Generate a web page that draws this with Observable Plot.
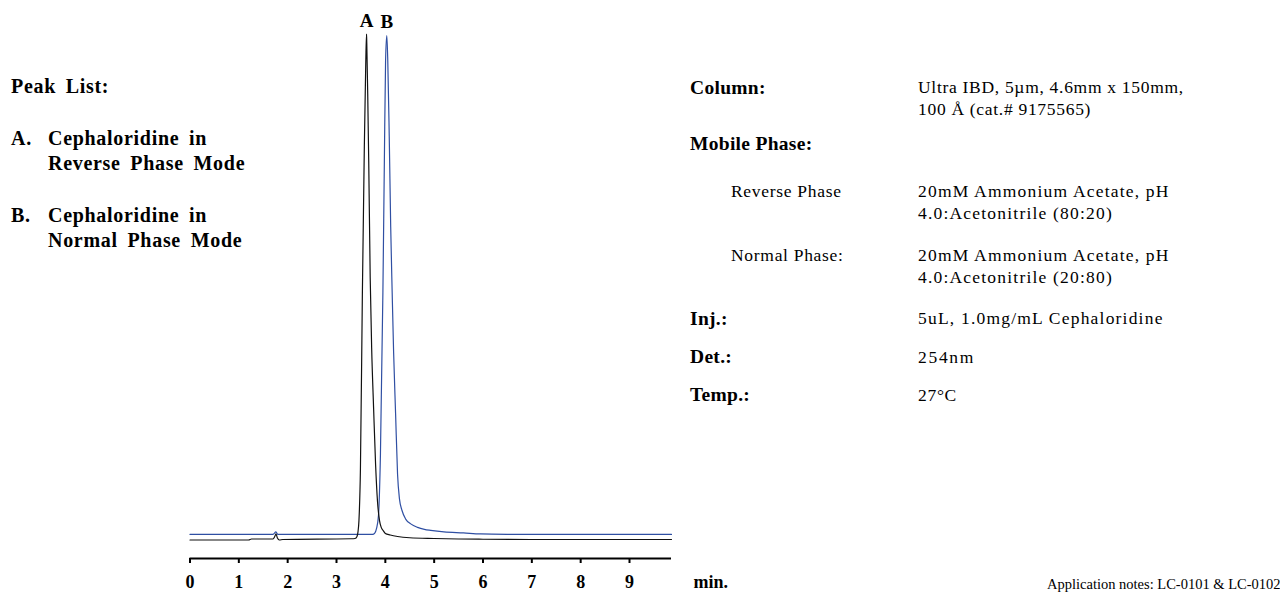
<!DOCTYPE html>
<html><head><meta charset="utf-8">
<script src="https://cdn.jsdelivr.net/npm/d3@7"></script>
<script src="https://cdn.jsdelivr.net/npm/@observablehq/plot@0.6"></script>
<style>
html,body{margin:0;padding:0;background:#fff;}
#page{position:relative;width:1280px;height:594px;overflow:hidden;font-family:"Liberation Serif","Times New Roman",serif;color:#000;}
#chart{position:absolute;left:0;top:0;}
.t{position:absolute;white-space:nowrap;line-height:1;}
</style></head><body><div id="page"><div id="chart"></div></div>
<script>
// ---- data ----
// Reverse phase run (black trace, peak A)
const rpTime = [0, 1.20, 1.26, 1.70, 1.74, 1.76, 1.79, 1.83, 1.90, 3.30, 3.38, 3.42, 3.44, 3.46, 3.49, 3.53, 3.57, 3.60, 3.615, 3.62, 3.64, 3.66, 3.69, 3.72, 3.76, 3.80, 3.84, 3.88, 3.92, 3.96, 4.00, 4.10, 4.25, 4.50, 5.00, 5.50, 6.00, 7.00, 9.86];
const rpSignal = [-0.1, -0.1, 0.1, 0.1, 0.7, 1.1, 0.3, -0.1, 0.0, 0.15, 0.2, 0.6, 1.5, 3.8, 14, 49, 78, 95, 100.3, 98.5, 88, 75, 52, 38, 26, 15, 7.5, 3.8, 2.3, 1.7, 1.2, 0.9, 0.6, 0.35, 0.2, 0.1, 0.05, 0.0, 0.0];
// Normal phase run (blue trace, peak B)
const npTime = [0, 1.70, 1.76, 1.80, 3.74, 3.78, 3.82, 3.86, 3.90, 3.95, 3.98, 4.005, 4.03, 4.05, 4.08, 4.11, 4.14, 4.17, 4.21, 4.25, 4.29, 4.34, 4.42, 4.52, 4.66, 4.80, 4.93, 5.20, 5.60, 5.95, 6.50, 7.50, 9.86];
const npSignal = [1.0, 1.0, 1.5, 1.0, 1.0, 1.2, 2.2, 4.8, 17, 49, 75, 95, 100, 95, 80, 62, 49, 37, 25, 13, 8, 5.8, 4.0, 3.1, 2.4, 2.0, 1.8, 1.5, 1.3, 1.1, 1.03, 1.0, 1.0];
const xTicks = [0, 1, 2, 3, 4, 5, 6, 7, 8, 9];
const xUnit = "min.";
const peakLabels = ["A", "B"];

// ---- texts ----
const peakListTitle = "Peak List:";
const peakKeys = ["A.", "B."];
const peakNames = [["Cephaloridine in", "Reverse Phase Mode"], ["Cephaloridine in", "Normal Phase Mode"]];
const condLabels = ["Column:", "Mobile Phase:", "Inj.:", "Det.:", "Temp.:"];
const phaseLabels = ["Reverse Phase", "Normal Phase:"];
const columnValue = ["Ultra IBD, 5µm, 4.6mm x 150mm,", "100 Å (cat.# 9175565)"];
const phaseValues = [["20mM Ammonium Acetate, pH", "4.0:Acetonitrile (80:20)"], ["20mM Ammonium Acetate, pH", "4.0:Acetonitrile (20:80)"]];
const injValue = "5uL, 1.0mg/mL Cephaloridine";
const detValue = "254nm";
const tempValue = "27°C";
const footnote = "Application notes: LC-0101 & LC-0102";

// ---- build tables ----
const rp = rpTime.map((t, i) => ({t, s: rpSignal[i]}));
const np = npTime.map((t, i) => ({t, s: npSignal[i]}));
const peaks = [d3.greatest(rp, d => d.s), d3.greatest(np, d => d.s)].map((d, i) => ({...d, label: peakLabels[i]}));

const yDomain = [-3.77, 100];
const chart = Plot.plot({
  width: 740, height: 594,
  marginLeft: 189.5, marginRight: 69, marginTop: 35, marginBottom: 36,
  x: {domain: [0, 9.86]},
  y: {domain: yDomain, axis: null},
  style: {fontFamily: "'Liberation Serif', serif", fontSize: "18px", fontWeight: "bold", color: "#000", background: "#fff", overflow: "visible"},
  marks: [
    Plot.ruleY([yDomain[0]], {stroke: "#000", strokeWidth: 2.2}),
    Plot.axisX({ticks: xTicks, tickFormat: d => d, tickSize: 5, tickPadding: 12, strokeWidth: 2, label: null, fontWeight: "bold"}),
    Plot.text([xUnit], {frameAnchor: "bottom-right", textAnchor: "start", lineAnchor: "top", dx: 22, dy: 17, fontWeight: "bold"}),
    Plot.line(np, {x: "t", y: "s", stroke: "#2f4fa3", strokeWidth: 1.2, curve: "monotone-x"}),
    Plot.line(rp, {x: "t", y: "s", stroke: "#111", strokeWidth: 1.2, curve: "monotone-x"}),
    Plot.text(peaks, {x: "t", y: "s", text: "label", dy: -13.5, fontSize: 19, fontWeight: "bold"})
  ]
});
document.getElementById("chart").appendChild(chart);

// ---- annotation layout ----
const page = document.getElementById("page");
function put(text, x, baseline, size, bold, extra) {
  const el = document.createElement("div");
  el.className = "t";
  el.textContent = text;
  el.style.left = x + "px";
  el.style.top = (baseline - 0.8375 * size) + "px";
  el.style.fontSize = size + "px";
  el.style.fontWeight = bold ? "bold" : "normal";
  if (extra) Object.assign(el.style, extra);
  page.appendChild(el);
}
const leftStyle = {letterSpacing: "0.7px", wordSpacing: "4px"};
put(peakListTitle, 11, 93, 20, true, leftStyle);
const peakBase = [145, 221.7];
peakKeys.forEach((k, i) => {
  put(k, 11, peakBase[i], 20, true, leftStyle);
  put(peakNames[i][0], 48, peakBase[i], 20, true, leftStyle);
  put(peakNames[i][1], 48, peakBase[i] + 25, 20, true, leftStyle);
});
const condBase = [94, 150.7, 325, 363.3, 401.7];
condLabels.forEach((c, i) => put(c, 690, condBase[i], 19.5, true, {letterSpacing: "0.3px"}));
const tight = {letterSpacing: "0.7px"};
const wide = {letterSpacing: "1.2px"};
put(columnValue[0], 918, 94, 17.5, false, tight);
put(columnValue[1], 918, 116, 17.5, false, tight);
const phaseBase = [197.7, 261.7];
phaseLabels.forEach((p, i) => {
  put(p, 731, phaseBase[i], 17.5, false, tight);
  put(phaseValues[i][0], 918, phaseBase[i], 17.5, false, wide);
  put(phaseValues[i][1], 918, phaseBase[i] + 22.3, 17.5, false, wide);
});
put(injValue, 918, 325, 17.5, false, wide);
put(detValue, 918, 363.3, 17.5, false, {letterSpacing: "1.7px"});
put(tempValue, 918, 401.7, 17.5, false, tight);
put(footnote, 1047, 589, 14.5, false);
</script></body></html>
